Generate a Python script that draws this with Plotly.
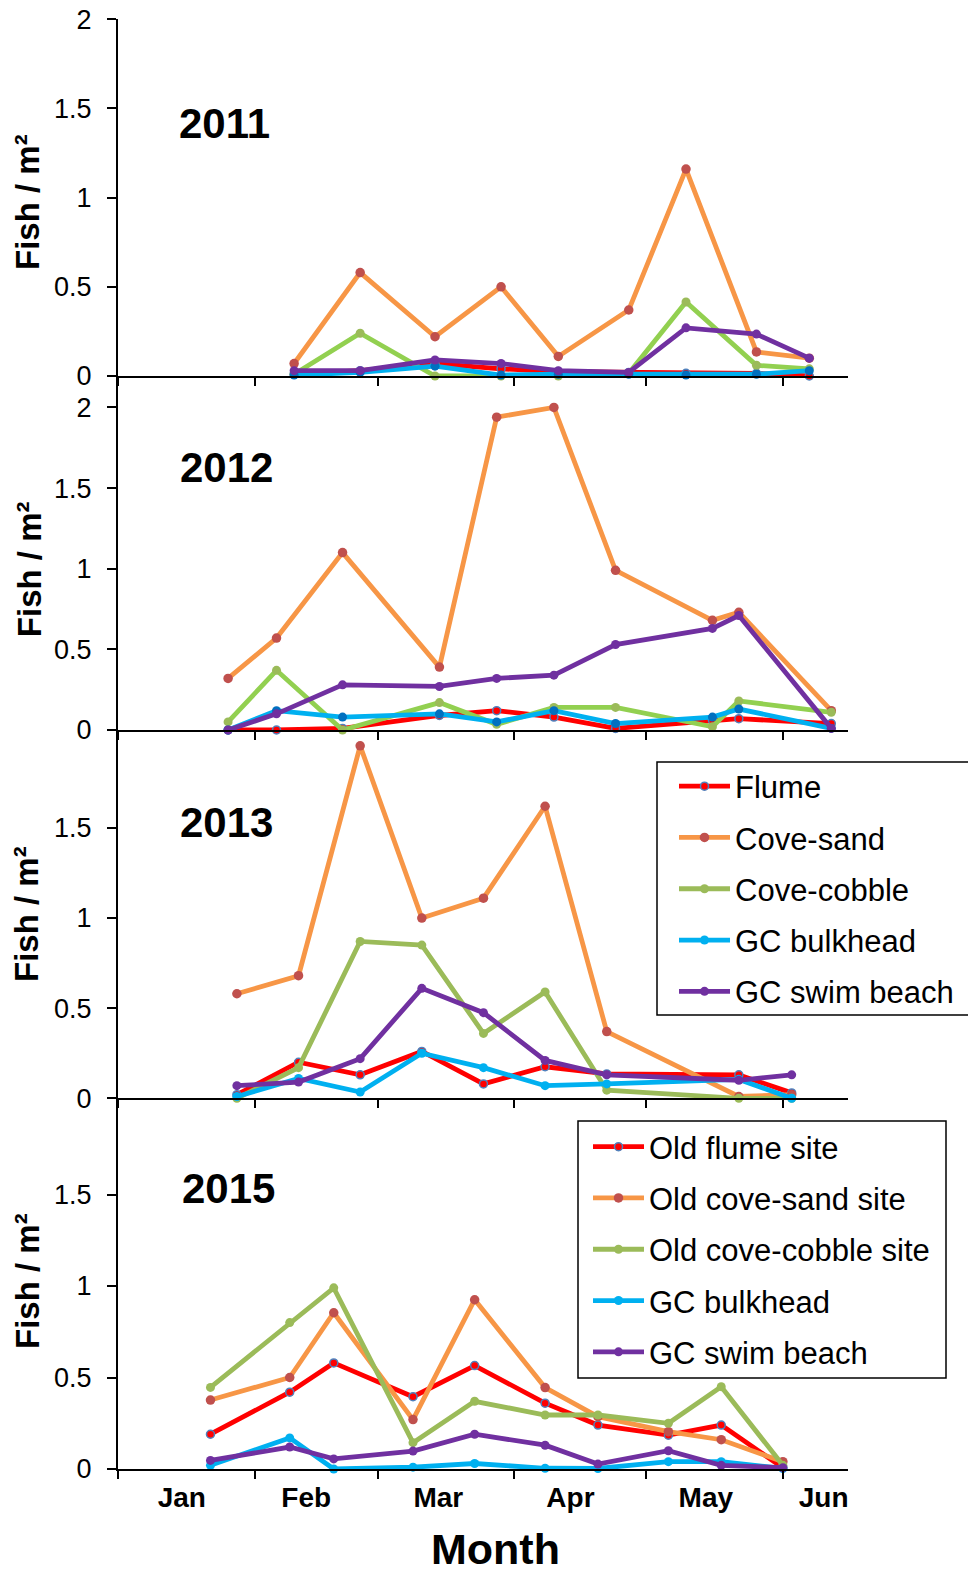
import plotly.graph_objects as go

REF_YEAR = "2013"  # common calendar year used to overlay the seasons on one month axis

month_labels = ["Jan", "Feb", "Mar", "Apr", "May", "Jun"]
month_starts = ["01-01", "02-01", "03-01", "04-01", "05-01", "06-01"]
month_label_pos = ["01-15 12:00", "02-12 18:00", "03-14 18:00", "04-13 18:00", "05-14 12:00", "06-10 06:00"]
x_range = ["01-01", "06-15 19:00"]
y_ticks_full = [0, 0.5, 1, 1.5, 2]
y_ticks_short = [0, 0.5, 1, 1.5]

# ---- 2011 ----
dates_2011 = ["02-10", "02-25", "03-14", "03-29", "04-11", "04-27", "05-10", "05-26", "06-07"]
flume_2011 = [0.01, 0.03, 0.07, 0.04, 0.025, 0.02, 0.015, 0.015, 0.0]
cove_sand_2011 = [0.07, 0.58, 0.22, 0.50, 0.11, 0.37, 1.16, 0.135, 0.10]
cove_cobble_2011 = [0.01, 0.24, 0.0, 0.0, 0.0, 0.015, 0.415, 0.06, 0.04]
gc_bulkhead_2011 = [0.005, 0.02, 0.055, 0.005, 0.01, 0.01, 0.005, 0.01, 0.03]
gc_swim_2011 = [0.03, 0.03, 0.09, 0.07, 0.03, 0.02, 0.27, 0.235, 0.10]

# ---- 2012 ----
dates_2012 = ["01-26", "02-06", "02-21", "03-15", "03-28", "04-10", "04-24", "05-16", "05-22", "06-12"]
flume_2012 = [0.0, 0.0, 0.01, 0.09, 0.12, 0.08, 0.01, 0.06, 0.07, 0.04]
cove_sand_2012 = [0.32, 0.57, 1.10, 0.39, 1.94, 2.00, 0.99, 0.68, 0.73, 0.12]
cove_cobble_2012 = [0.05, 0.37, 0.0, 0.17, 0.035, 0.14, 0.14, 0.02, 0.18, 0.11]
gc_bulkhead_2012 = [0.0, 0.12, 0.08, 0.10, 0.05, 0.12, 0.04, 0.08, 0.13, 0.01]
gc_swim_2012 = [0.0, 0.10, 0.28, 0.27, 0.32, 0.34, 0.53, 0.63, 0.71, 0.01]

# ---- 2013 ----
dates_2013 = ["01-28", "02-11", "02-25", "03-11", "03-25", "04-08", "04-22", "05-22", "06-03"]
flume_2013 = [0.02, 0.20, 0.13, 0.26, 0.08, 0.175, 0.135, 0.13, 0.03]
cove_sand_2013 = [0.58, 0.68, 1.955, 1.00, 1.11, 1.62, 0.37, 0.01, 0.02]
cove_cobble_2013 = [0.0, 0.17, 0.87, 0.85, 0.36, 0.59, 0.045, 0.0, 0.0]
gc_bulkhead_2013 = [0.01, 0.11, 0.035, 0.25, 0.17, 0.07, 0.08, 0.105, 0.0]
gc_swim_2013 = [0.07, 0.09, 0.22, 0.61, 0.475, 0.21, 0.13, 0.10, 0.13]

# ---- 2015 ----
dates_2015 = ["01-22", "02-09", "02-19", "03-09", "03-23", "04-08", "04-20", "05-06", "05-18", "06-01"]
flume_2015 = [0.19, 0.42, 0.58, 0.395, 0.565, 0.36, 0.24, 0.185, 0.24, 0.007]
cove_sand_2015 = [0.377, 0.50, 0.854, 0.27, 0.925, 0.445, 0.286, 0.204, 0.16, 0.04]
cove_cobble_2015 = [0.446, 0.80, 0.99, 0.144, 0.37, 0.295, 0.295, 0.25, 0.45, 0.02]
gc_bulkhead_2015 = [0.02, 0.17, 0.0, 0.01, 0.03, 0.004, 0.003, 0.04, 0.04, 0.003]
gc_swim_2015 = [0.047, 0.12, 0.055, 0.098, 0.19, 0.13, 0.027, 0.10, 0.02, 0.007]

names_early = ["Flume", "Cove-sand", "Cove-cobble", "GC bulkhead", "GC swim beach"]
names_2015 = ["Old flume site", "Old cove-sand site", "Old cove-cobble site", "GC bulkhead", "GC swim beach"]


def d(md):
    return f"{REF_YEAR}-{md}"


W, H = 968, 1574
FONT = "Liberation Sans, Arial, sans-serif"


def px(x):
    return x / W


def py(y):
    return 1 - y / H


panels = [
    dict(label="2011", dates=dates_2011,
         series=[flume_2011, cove_sand_2011, cove_cobble_2011, gc_bulkhead_2011, gc_swim_2011],
         names=names_early, legend=None, dom=(376, 19.3), yr=[0, 2.0], ticks=y_ticks_full,
         lab=(224, 123), ttl=(27.5, 202.5), bright=True),
    dict(label="2012", dates=dates_2012,
         series=[flume_2012, cove_sand_2012, cove_cobble_2012, gc_bulkhead_2012, gc_swim_2012],
         names=names_early, legend=None, dom=(730, 376), yr=[0, 2.195], ticks=y_ticks_full,
         lab=(226, 467.5), ttl=(29.7, 569.5), bright=True),
    dict(label="2013", dates=dates_2013,
         series=[flume_2013, cove_sand_2013, cove_cobble_2013, gc_bulkhead_2013, gc_swim_2013],
         names=names_early, legend="legend", dom=(1098.3, 730), yr=[0, 2.043], ticks=y_ticks_short,
         lab=(226, 822.5), ttl=(26, 914), bright=False),
    dict(label="2015", dates=dates_2015,
         series=[flume_2015, cove_sand_2015, cove_cobble_2015, gc_bulkhead_2015, gc_swim_2015],
         names=names_2015, legend="legend2", dom=(1469, 1098.3), yr=[0, 2.026], ticks=y_ticks_short,
         lab=(228, 1188.5), ttl=(27, 1281), bright=False),
]


def styles(bright):
    lw = 4.8
    return [
        dict(line=dict(color="#FF0000", width=lw),
             marker=dict(color="#FF0000", size=8, line=dict(color="#4F81BD", width=1.5))),
        dict(line=dict(color="#F79646", width=lw),
             marker=dict(color="#C0504D", size=9.5)),
        dict(line=dict(color="#92D050" if bright else "#9BBB59", width=lw),
             marker=dict(color="#9BBB59", size=9)),
        dict(line=dict(color="#00B0F0", width=lw),
             marker=dict(color="#0070C0" if bright else "#00B0F0", size=9)),
        dict(line=dict(color="#7030A0", width=lw),
             marker=dict(color="#7030A0", size=9)),
    ]


fig = go.Figure()
annotations = []
layout = {}

for i, p in enumerate(panels, start=1):
    sfx = "" if i == 1 else str(i)
    xs = [d(m) for m in p["dates"]]
    for j, (vals, nm, st) in enumerate(zip(p["series"], p["names"], styles(p["bright"]))):
        tr = go.Scatter(
            x=xs, y=vals, mode="lines+markers", name=nm,
            line=st["line"], marker=st["marker"], cliponaxis=False,
            xaxis="x" + sfx, yaxis="y" + sfx,
            showlegend=p["legend"] is not None,
            legendgroup=f"{p['label']}_{j}",
        )
        if p["legend"] is not None:
            tr.legend = p["legend"]
        fig.add_trace(tr)

    bottom = i == len(panels)
    xa = dict(
        type="date", range=[d(x_range[0]), d(x_range[1])], autorange=False,
        domain=[px(118), px(848)], anchor="y" + sfx, automargin=False,
        showline=True, linecolor="black", linewidth=2, mirror=False,
        showgrid=False, zeroline=False,
        tickmode="array", tickvals=[d(m) for m in month_label_pos], ticktext=month_labels,
        ticks="", showticklabels=bottom, ticklabelstandoff=2,
        tickfont=dict(family=FONT, size=28, color="black", weight="bold"),
        minor=dict(tickmode="array", tickvals=[d(m) for m in month_starts],
                   ticks="outside", ticklen=8, tickwidth=2, tickcolor="black", showgrid=False),
    )
    if i != len(panels):
        xa["matches"] = "x4"
    layout["xaxis" + sfx] = xa

    ya = dict(
        range=p["yr"], autorange=False, domain=[py(p["dom"][0]), py(p["dom"][1])],
        anchor="x" + sfx, automargin=False,
        showline=True, linecolor="black", linewidth=2,
        showgrid=False, zeroline=False,
        tickmode="array", tickvals=p["ticks"], ticktext=[f"{t:g}" for t in p["ticks"]],
        ticks="outside", ticklen=9, tickwidth=2, tickcolor="black",
        tickfont=dict(family=FONT, size=27, color="black"),
        ticklabelstandoff=10,
    )
    layout["yaxis" + sfx] = ya

    annotations.append(dict(
        text=p["label"], xref="paper", yref="paper", x=px(p["lab"][0]), y=py(p["lab"][1]),
        xanchor="center", yanchor="middle", showarrow=False,
        font=dict(family=FONT, size=42, color="black", weight="bold"),
    ))
    annotations.append(dict(
        text="Fish / m²", xref="paper", yref="paper", x=px(p["ttl"][0]), y=py(p["ttl"][1]),
        xanchor="center", yanchor="middle", showarrow=False, textangle=-90,
        font=dict(family=FONT, size=33, color="black", weight="bold"),
    ))

annotations.append(dict(
    text="Month", xref="paper", yref="paper", x=px(496), y=py(1548.5),
    xanchor="center", yanchor="middle", showarrow=False,
    font=dict(family=FONT, size=43, color="black", weight="bold"),
))

# legend frames (drawn as boxes, the legend items sit inside them)
legend_frames = [(657, 762, 980, 1015), (578, 1121, 946, 1378)]
shapes = [
    dict(type="rect", xref="paper", yref="paper", layer="above",
         x0=px(a), x1=px(c), y0=py(dd), y1=py(b),
         line=dict(color="black", width=1.5), fillcolor="white")
    for (a, b, c, dd) in legend_frames
]

legend_common = dict(
    xanchor="left", yanchor="top", bgcolor="rgba(0,0,0,0)", borderwidth=0,
    font=dict(family=FONT, size=31, color="black"), traceorder="grouped",
    tracegroupgap=8, itemwidth=51,
)

fig.update_layout(
    template="none",
    width=W, height=H, autosize=False,
    margin=dict(l=0, r=0, t=0, b=0, pad=0, autoexpand=False),
    paper_bgcolor="white", plot_bgcolor="white",
    font=dict(family=FONT, color="black"),
    annotations=annotations,
    shapes=shapes,
    legend=dict(x=px(674), y=py(759.5), **legend_common),
    legend2=dict(x=px(588), y=py(1120), **legend_common),
    **layout,
)

fig.write_html(
    "out.html",
    config={"displayModeBar": False},
    post_script="document.body.style.margin='0px';",
)
